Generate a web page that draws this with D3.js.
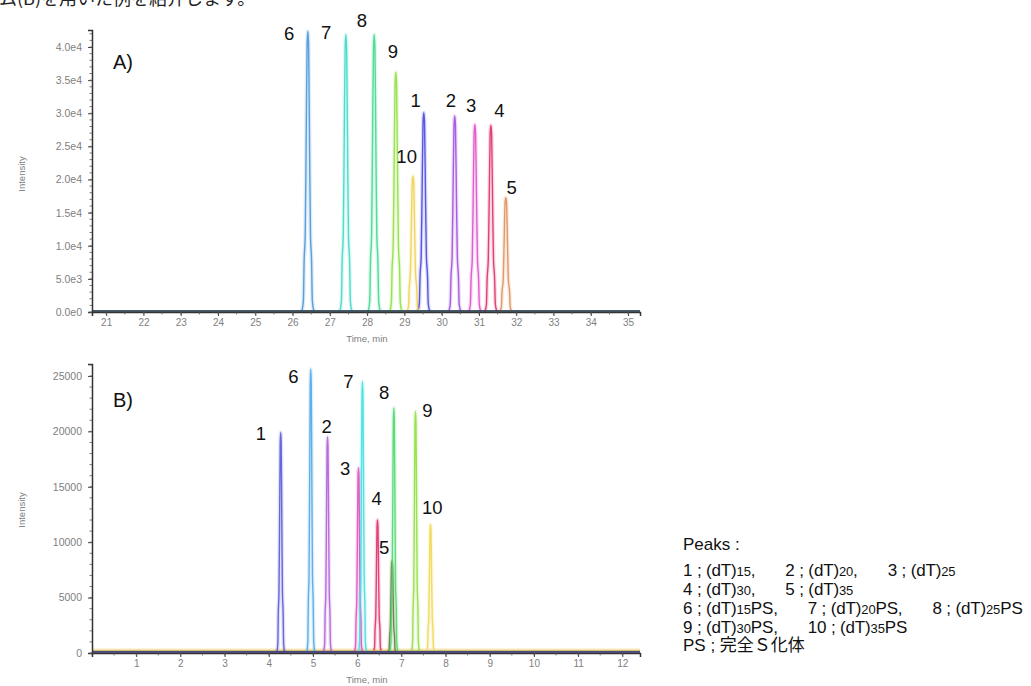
<!DOCTYPE html>
<html><head><meta charset="utf-8">
<script src="https://cdn.jsdelivr.net/npm/d3@7"></script>
<style>
body{margin:0;background:#fff;}
svg{display:block;font-family:"Liberation Sans",Arial,sans-serif;}
</style></head>
<body><svg id="c" width="1031" height="686"></svg>
<script>
// ---------- data ----------
const peakLabels = ["1","2","3","4","5","6","7","8","9","10"];
// Panel A (Time, min / Intensity)
const peakTimeA   = [29.52, 30.35, 30.89, 31.32, 31.72, 26.41, 27.43, 28.19, 28.77, 29.23];
const peakHeightA = [30100, 29600, 28300, 28200, 17300, 42400, 41900, 41900, 36200, 20500];
const colorsA = ["#4848e0","#a050e0","#e050c8","#e03068","#e0905a","#4a98d8","#40d8c8","#40d890","#90e040","#f0d050"];
const baseA = [150, 120, 100, 120, 100, 150, 120, 100, 100, 120];
// Panel B
const peakTimeB   = [4.27, 5.33, 6.03, 6.46, 6.79, 4.95, 6.12, 6.83, 7.32, 7.66];
const peakHeightB = [19900, 19500, 16700, 12000, 8300, 25600, 24500, 22100, 21800, 11600];
const colorsB = ["#5a5ad8","#b060d8","#e050c0","#e03070","#6a7a40","#50a8e8","#40e0e0","#50d870","#90e040","#f0d850"];
const baseB = [100, 150, 150, 250, 150, 100, 150, 200, 200, 350];
const baseColorsB = ["#5a5ad8","#b060d8","#e050c0","#f0a050","#6a7a40","#50a8e8","#40e0e0","#a0d870","#e0b040","#f0c850"];
// shared peak profile (time offset in min, fraction of height)
const profileOffsets = [-0.16,-0.12,-0.10,-0.07,-0.045,-0.02,0,0.02,0.045,0.07,0.10,0.12,0.16];
const profileFrac    = [0,0.04,0.18,0.28,0.6,0.95,1,0.95,0.6,0.28,0.18,0.04,0];
const widthScaleA = 1.0, widthScaleB = 0.55;
// axis ticks
const yTicksA = [0,5000,10000,15000,20000,25000,30000,35000,40000];
const yTickLabelsA = ["0.0e0","5.0e3","1.0e4","1.5e4","2.0e4","2.5e4","3.0e4","3.5e4","4.0e4"];
const xTicksA = [21,22,23,24,25,26,27,28,29,30,31,32,33,34,35];
const yTicksB = [0,5000,10000,15000,20000,25000];
const xTicksB = [1,2,3,4,5,6,7,8,9,10,11,12];
// peak label positions in data units (time, intensity)
const labelPosA = [[29.30,31020],[30.25,30950],[30.79,30120],[31.55,29440],[31.88,17740],[25.91,41060],[26.90,41210],[27.86,43020],[28.69,38350],[29.06,22490]];
const labelPosB = [[3.82,19220],[5.31,19850],[5.73,16020],[6.44,13400],[6.61,8890],[4.56,24370],[5.80,23910],[6.61,22880],[7.59,21300],[7.70,12500]];
// legend items: [prefix, subscript, suffix]
const legendTitle = "Peaks :";
const legendRows = [
  [["1 ; (dT)","15",","],["2 ; (dT)","20",","],["3 ; (dT)","25",""]],
  [["4 ; (dT)","30",","],["5 ; (dT)","35",""]],
  [["6 ; (dT)","15","PS,"],["7 ; (dT)","20","PS,"],["8 ; (dT)","25","PS"]],
  [["9 ; (dT)","30","PS,"],["10 ; (dT)","35","PS"]]
];
const legendNoteLatin = "PS ; ";
const legendNoteCJK = "完全Ｓ化体";

// ---------- drawing ----------
const svg = d3.select("#c");
svg.append("text").attr("x",-1).attr("y",5).attr("font-size",18)
  .attr("font-family","Noto Sans CJK JP").attr("fill","#222")
  .text("ム(B)を用いた例を紹介します。");

function panel(cfg){
  const x = d3.scaleLinear().domain(cfg.xd).range([92,640]);
  const y = d3.scaleLinear().domain(cfg.yd).range(cfg.yr);
  const g = svg.append("g");
  const line = d3.line().x(d=>x(d[0])).y(d=>y(d[1])).curve(d3.curveMonotoneX);
  const peakPts = (t,i)=>profileOffsets.map((o,k)=>[t+o*cfg.ws, Math.max(cfg.base[i], profileFrac[k]*cfg.heights[i])]);
  cfg.times.forEach((t,i)=>{
    g.append("line").attr("x1",x(cfg.xd[0])).attr("x2",x(cfg.xd[1]))
      .attr("y1",y(cfg.base[i])).attr("y2",y(cfg.base[i]))
      .attr("stroke",cfg.baseColors[i]).attr("stroke-width",1).attr("stroke-opacity",0.55);
  });
  cfg.times.forEach((t,i)=>{
    g.append("path").attr("d",line(peakPts(t,i))).attr("fill","none")
      .attr("stroke",cfg.colors[i]).attr("stroke-width",4).attr("stroke-opacity",0.18);
  });
  cfg.times.forEach((t,i)=>{
    g.append("path").attr("d",line(peakPts(t,i))).attr("fill","none")
      .attr("stroke",cfg.colors[i]).attr("stroke-width",1.4).attr("stroke-opacity",0.9);
  });
  g.append("line").attr("x1",x(cfg.xd[0])).attr("x2",x(cfg.xd[1]))
    .attr("y1",y(0)-1).attr("y2",y(0)-1).attr("stroke",cfg.baseColor).attr("stroke-width",1.6);
  const ya = d3.axisLeft(y).tickValues(cfg.yTicks).tickSize(4).tickPadding(6)
    .tickFormat((d,i)=>cfg.yLabels ? cfg.yLabels[i] : d);
  const yag = g.append("g").attr("transform","translate(92,0)").call(ya);
  const xa = d3.axisBottom(x).tickValues(cfg.xTicks).tickSize(4).tickPadding(3);
  const xag = g.append("g").attr("transform",`translate(0,${y(0)})`).call(xa);
  [yag,xag].forEach(a=>{
    a.select(".domain").attr("stroke","#333").attr("stroke-width",1.5);
    a.selectAll(".tick line").attr("stroke","#444");
    a.selectAll(".tick text").attr("fill","#808080").attr("font-family","Liberation Sans");
  });
  yag.selectAll(".tick text").attr("font-size",10.5);
  xag.selectAll(".tick text").attr("font-size",10);
  d3.range(0, cfg.yd[1], cfg.yMinor).forEach(v=>{
    g.append("line").attr("x1",89.5).attr("x2",92).attr("y1",y(v)).attr("y2",y(v)).attr("stroke","#555").attr("stroke-width",0.8);
  });
  d3.range(Math.ceil(cfg.xd[0]*2)/2, cfg.xd[1], 0.5).forEach(v=>{
    g.append("line").attr("x1",x(v)).attr("x2",x(v)).attr("y1",y(0)).attr("y2",y(0)+2.5).attr("stroke","#555").attr("stroke-width",0.8);
  });
  g.append("text").attr("x",367).attr("y",y(0)+cfg.timeDy).attr("text-anchor","middle")
    .attr("font-size",9.5).attr("fill","#808080").text("Time, min");
  g.append("text").attr("transform",`translate(25,${cfg.ymid}) rotate(-90)`).attr("text-anchor","middle")
    .attr("font-size",9.5).attr("fill","#808080").text("Intensity");
  cfg.labelPos.forEach((p,i)=>{
    g.append("text").attr("x",x(p[0])).attr("y",y(p[1])).attr("text-anchor","middle")
      .attr("font-size",18.5).attr("fill","#111").text(peakLabels[i]);
  });
  g.append("text").attr("x",113).attr("y",cfg.tagY).attr("font-size",20).attr("fill","#111").text(cfg.tag);
}

panel({xd:[20.62,35.32], yd:[0,42570], yr:[312,30], times:peakTimeA, heights:peakHeightA,
  colors:colorsA, baseColors:colorsA, base:baseA, ws:widthScaleA, yTicks:yTicksA, yLabels:yTickLabelsA, xTicks:xTicksA,
  yMinor:1000, labelPos:labelPosA, tag:"A)", tagY:69, ymid:174, baseColor:"#2a3a60", timeDy:30});
panel({xd:[0,12.4], yd:[0,26080], yr:[653,364], times:peakTimeB, heights:peakHeightB,
  colors:colorsB, baseColors:baseColorsB, base:baseB, ws:widthScaleB, yTicks:yTicksB, yLabels:null, xTicks:xTicksB,
  yMinor:1000, labelPos:labelPosB, tag:"B)", tagY:407, ymid:510, baseColor:"#3a2a70", timeDy:30});

// legend
const LX = 683, FS = 17, SFS = 13, GAP = 30;
const legY = [550,576,595,614,633,651];
svg.append("text").attr("x",LX).attr("y",legY[0]).attr("font-size",FS).attr("fill","#111").text(legendTitle);
legendRows.forEach((row,r)=>{
  const t = svg.append("text").attr("x",LX).attr("y",legY[r+1]).attr("font-size",FS)
    .attr("fill","#111").attr("letter-spacing",-0.15);
  row.forEach((item,k)=>{
    const a = t.append("tspan").text(item[0]);
    if(k>0) a.attr("dx",GAP);
    t.append("tspan").attr("font-size",SFS).text(item[1]);
    if(item[2]) t.append("tspan").text(item[2]);
  });
});
const note = svg.append("text").attr("x",LX).attr("y",legY[5]).attr("fill","#111").attr("font-size",FS);
note.append("tspan").attr("xml:space","preserve").text(legendNoteLatin);
note.append("tspan").attr("font-family","Noto Sans CJK JP").attr("font-size",17).text(legendNoteCJK);
</script></body></html>
